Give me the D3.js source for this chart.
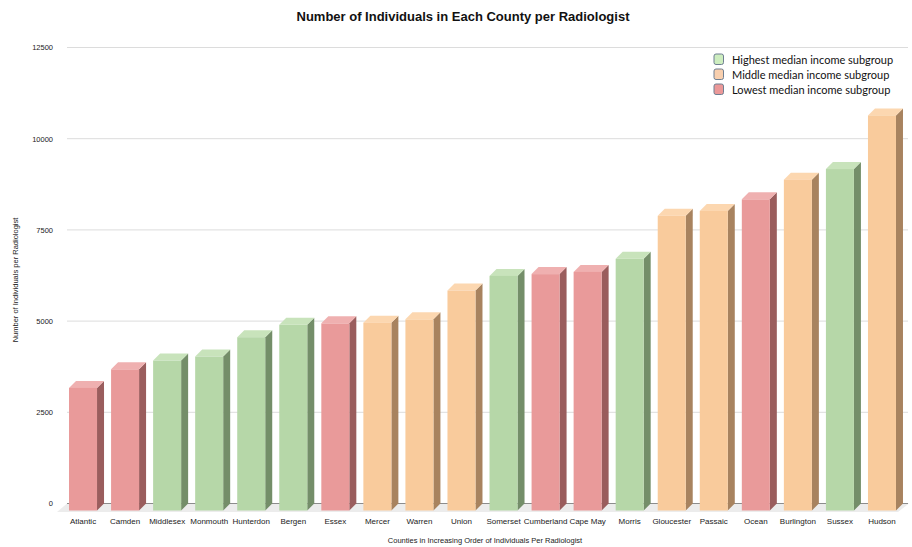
<!DOCTYPE html>
<html>
<head>
<meta charset="utf-8">
<script src="https://cdn.jsdelivr.net/npm/d3@7"></script>
<style>
  html, body { margin: 0; padding: 0; background: #fff; }
  svg { display: block; }
</style>
</head>
<body>
<svg id="chart" width="912" height="547"></svg>
<script>
// Counties ordered by residents per radiologist
const counties = ["Atlantic", "Camden", "Middlesex", "Monmouth", "Hunterdon", "Bergen", "Essex",
  "Mercer", "Warren", "Union", "Somerset", "Cumberland", "Cape May", "Morris", "Gloucester",
  "Passaic", "Ocean", "Burlington", "Sussex", "Hudson"];
const perRadiologist = [3360, 3870, 4110, 4220, 4750, 5090, 5130, 5150, 5240, 6030, 6430, 6480,
  6540, 6900, 8080, 8210, 8530, 9070, 9360, 10830];
// Median income subgroup of each county: "high", "mid", "low"
const incomeGroup = ["low", "low", "high", "high", "high", "high", "low", "mid", "mid", "mid",
  "high", "low", "low", "high", "mid", "mid", "low", "mid", "high", "mid"];
const yTicks = [0, 2500, 5000, 7500, 10000, 12500];
const legendGroups = ["high", "mid", "low"];
const legendLabels = ["Highest median income subgroup", "Middle median income subgroup", "Lowest median income subgroup"];

const palette = {
  high: { front: "#b6d7a8", side: "#748e69", top: "#c8e3bb", key: "#cdedbf" },
  mid:  { front: "#f9cb9c", side: "#a8835f", top: "#fcd7b0", key: "#f8cfae" },
  low:  { front: "#e99a9a", side: "#9a5d5d", top: "#efb0b0", key: "#eb9898" }
};

const svg = d3.select("#chart");
const depth = 7;           // 3D offset of the bars (right and up)
const baseY = 503.5;        // back-wall zero line

const y = d3.scaleLinear().domain([0, 12500]).range([baseY, 47.5]);
const x = d3.scaleBand().domain(counties).range([62, 903]).paddingInner(0.334).paddingOuter(0.167);

// Title
svg.append("text")
  .attr("x", 463).attr("y", 21)
  .attr("text-anchor", "middle")
  .style("font-family", "'Liberation Sans Narrow', 'Liberation Sans', Arial, sans-serif")
  .style("font-weight", "bold").style("font-size", "13px").style("fill", "#111")
  .text("Number of Individuals in Each County per Radiologist");

// Floor under the bars
const floorFrontY = 512, floorBackY = baseY;
svg.append("polygon")
  .attr("points", [[57, floorFrontY], [67, floorBackY], [909, floorBackY], [898, floorFrontY]].map(p => p.join(",")).join(" "))
  .style("fill", "#ececec");

// Gridlines on the back wall
svg.append("g").selectAll("line").data(yTicks.filter(d => d > 0)).join("line")
  .attr("x1", 67).attr("x2", 908)
  .attr("y1", d => y(d)).attr("y2", d => y(d))
  .style("stroke", "#dcdcdc").style("stroke-width", 1);
svg.append("line")
  .attr("x1", 67).attr("x2", 908).attr("y1", y(0)).attr("y2", y(0))
  .style("stroke", "#8c8c8c").style("stroke-width", 1);

// Y-axis tick labels
const yAxis = d3.axisLeft(y).tickValues(yTicks).tickSize(0).tickPadding(0).tickFormat(d3.format("d"));
const yg = svg.append("g").attr("transform", "translate(53,0)").call(yAxis);
yg.select(".domain").remove();
yg.selectAll("text")
  .style("font-family", "'Liberation Sans', Arial, sans-serif")
  .style("font-size", "7.5px").style("fill", "#222");

// Bars: front, side and top faces
const bars = svg.append("g").selectAll("g").data(counties.map((c, i) => ({ c, v: perRadiologist[i], g: incomeGroup[i] })))
  .join("g");
bars.each(function (d) {
  const g = d3.select(this);
  const x0 = x(d.c), w = x.bandwidth();
  const fb = baseY + depth, ft = y(d.v) + depth;
  const col = palette[d.g];
  g.append("polygon")
    .attr("points", [[x0 + w, ft], [x0 + w + depth, ft - depth], [x0 + w + depth, fb - depth], [x0 + w, fb]].map(p => p.join(",")).join(" "))
    .style("fill", col.side);
  g.append("polygon")
    .attr("points", [[x0, ft], [x0 + depth, ft - depth], [x0 + w + depth, ft - depth], [x0 + w, ft]].map(p => p.join(",")).join(" "))
    .style("fill", col.top);
  g.append("rect")
    .attr("x", x0).attr("y", ft).attr("width", w).attr("height", fb - ft)
    .style("fill", col.front);
});

// X-axis category labels
const xAxis = d3.axisBottom(x).tickSize(0).tickPadding(0);
const xg = svg.append("g").attr("transform", `translate(0,${baseY + 15})`).call(xAxis);
xg.select(".domain").remove();
xg.selectAll("text")
  .style("font-family", "'Liberation Sans', Arial, sans-serif")
  .style("font-size", "8px").style("fill", "#222");

// Axis titles
svg.append("text")
  .attr("x", 485).attr("y", 543).attr("text-anchor", "middle")
  .style("font-family", "'Liberation Sans', Arial, sans-serif")
  .style("font-size", "7.5px").style("fill", "#222")
  .text("Counties in Increasing Order of Individuals Per Radiologist");
svg.append("text")
  .attr("transform", "translate(18,280) rotate(-90)").attr("text-anchor", "middle")
  .style("font-family", "'Liberation Sans', Arial, sans-serif")
  .style("font-size", "7.5px").style("fill", "#222")
  .text("Number of Individuals per Radiologist");

// Legend
const legend = svg.append("g").selectAll("g").data(legendGroups).join("g")
  .attr("transform", (d, i) => `translate(714,${54 + i * 15})`);
legend.append("rect")
  .attr("width", 9.5).attr("height", 10.5).attr("rx", 2)
  .style("fill", d => palette[d].key).style("stroke", "#6f7f92").style("stroke-width", 1);
legend.append("text")
  .attr("x", 18).attr("y", 9.5)
  .style("font-family", "Lato, 'Open Sans', sans-serif")
  .style("font-size", "11px").style("fill", "#111")
  .text((d, i) => legendLabels[i]);
</script>
</body>
</html>
